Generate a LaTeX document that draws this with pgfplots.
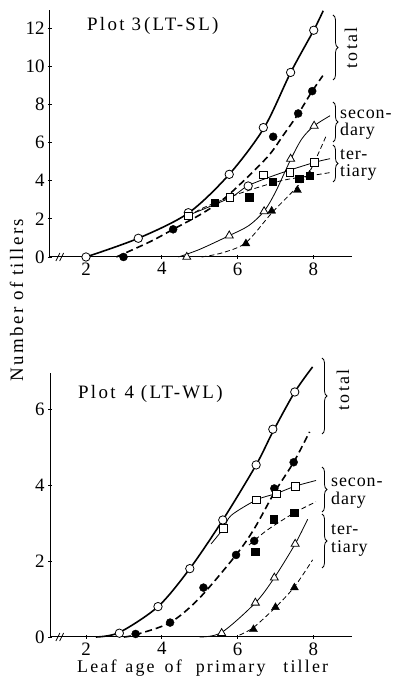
\documentclass[border=0pt]{standalone}
\usepackage{fontspec}
\setmainfont{Liberation Serif}
\newfontfamily\spaced[LetterSpace=12]{Liberation Serif}
\newfontfamily\lspaced[LetterSpace=5]{Liberation Serif}
\usepackage{pgfplots}
\pgfplotsset{compat=1.18}
\usetikzlibrary{decorations.pathreplacing}

\pgfplotsset{
  myax/.style={
    scale only axis, width=302bp, anchor=south west,
    axis lines=left, axis line style={line width=1bp,-},
    xmin=1.05, xmax=9.02, xtick={2,4,6,8},
    tick style={line width=0.8bp,black}, major tick length=4bp,
    tick label style={font=\fontsize{19}{19}\selectfont},
    /pgf/number format/assume math mode=true,
    clip=false,
  },
  thickline/.style={line width=1.6bp, black, no marks, smooth},
  thickdash/.style={line width=1.6bp, black, no marks, smooth, dash pattern=on 7bp off 4bp},
  thinline/.style={line width=0.8bp, black, no marks, smooth},
  thindash/.style={line width=0.8bp, black, no marks, smooth, dash pattern=on 5bp off 3bp},
  oc/.style={only marks, mark=*, mark size=4.2bp, mark options={fill=white, draw=black, line width=0.8bp}},
  fc/.style={only marks, mark=*, mark size=4bp, mark options={fill=black, draw=black}},
  os/.style={only marks, mark=square*, mark size=3.8bp, mark options={fill=white, draw=black, line width=0.8bp}},
  fs/.style={only marks, mark=square*, mark size=3.8bp, mark options={fill=black, draw=black}},
  ot/.style={only marks, mark=triangle*, mark size=4.6bp, mark options={fill=white, draw=black, line width=0.8bp}},
  ft/.style={only marks, mark=triangle*, mark size=4.6bp, mark options={fill=black, draw=black}},
}

\begin{document}
\begin{tikzpicture}
\useasboundingbox (0,0) rectangle (394bp,683bp);

% ---------------- Plot 3 ----------------
\begin{axis}[myax, at={(50bp,426bp)}, height=247bp,
  ymin=0, ymax=12.94, ytick={0,2,4,6,8,10,12}]
% curves
\addplot[thickline] coordinates {(2,0) (3.38,0.98) (4.70,2.3) (5.78,4.33) (6.70,6.77) (7.40,9.66) (8.01,11.88) (8.26,12.9)};
\addplot[thickdash] coordinates {(2.8,0) (3.69,0.8) (4.30,1.45) (5.10,2.32) (5.76,3.25) (6.77,5.2) (7.21,6.39) (7.61,7.53) (7.96,8.66) (8.25,9.5)};
\addplot[thinline] coordinates {(4.62,2.12) (5.80,3.1) (6.28,3.74) (7.12,4.38) (8.02,4.95) (8.44,5.15)};
\addplot[thindash] coordinates {(4.70,2.12) (5.10,2.58) (6.07,3.34) (7.12,3.98) (7.90,4.25) (8.44,4.42)};
\addplot[thinline] coordinates {(4.44,0) (5.0,0.4) (5.78,1.12) (6.3,1.65) (6.70,2.4) (7.0,3.4) (7.40,5.1) (7.7,6.2) (8.02,6.87) (8.44,7.4)};
\addplot[thindash] coordinates {(5.05,0) (5.6,0.22) (6.22,0.75) (6.9,2.3) (7.56,3.65) (7.91,4.5) (8.35,6.4)};
% marks
\addplot[oc] coordinates {(2,0) (3.38,0.98) (4.70,2.32) (5.78,4.33) (6.28,3.72) (6.68,6.78) (7.40,9.67) (8.01,11.88)};
\addplot[fc] coordinates {(2.99,0) (4.30,1.45) (6.94,6.3) (7.60,7.52) (7.97,8.69)};
\addplot[os] coordinates {(4.70,2.16) (5.80,3.11) (6.68,4.31) (7.38,4.42) (8.02,4.97)};
\addplot[fs] coordinates {(5.40,2.85) (6.31,3.12) (6.93,3.95) (7.63,4.10) (7.90,4.25)};
\addplot[ot] coordinates {(4.66,0) (5.78,1.12) (6.70,2.39) (7.40,5.14) (8.02,6.87)};
\addplot[ft] coordinates {(6.22,0.70) (6.90,2.41) (7.58,3.5) (7.90,4.30)};
% axis break
\draw[line width=0.8bp] ([xshift=-2.5bp,yshift=-4bp]axis cs:1.27,0) -- ([xshift=1.5bp,yshift=4bp]axis cs:1.27,0);
\draw[line width=0.8bp] ([xshift=-2.5bp,yshift=-4bp]axis cs:1.37,0) -- ([xshift=1.5bp,yshift=4bp]axis cs:1.37,0);
\end{axis}

% ---------------- Plot 4 ----------------
\begin{axis}[myax, at={(50bp,46bp)}, height=264bp,
  ymin=0, ymax=6.95, ytick={0,2,4,6}]
\addplot[thickline] coordinates {(2.26,0) (2.88,0.12) (3.90,0.80) (4.74,1.80) (5.61,3.08) (6.49,4.53) (6.93,5.40) (7.51,6.45) (7.98,7.11)};
\addplot[thickdash] coordinates {(3.0,0) (3.31,0.06) (4.22,0.38) (4.99,1.02) (5.96,2.16) (6.44,2.85) (6.97,3.8) (7.48,4.6) (7.90,5.40)};
\addplot[thinline] coordinates {(5.3,2.45) (5.63,2.86) (5.83,3.2) (6.50,3.61) (7.03,3.78) (7.52,3.97) (8.07,4.12)};
\addplot[thindash] coordinates {(6.3,2.42) (6.79,2.82) (7.50,3.27) (8.07,3.56)};
\addplot[thinline] coordinates {(5.0,0) (5.58,0.12) (6.47,0.90) (6.97,1.56) (7.52,2.45) (7.85,3.10)};
\addplot[thindash] coordinates {(6.05,0.05) (6.42,0.25) (7.0,0.78) (7.50,1.32) (7.98,2.03)};
\addplot[oc] coordinates {(2.88,0.10) (3.90,0.80) (4.74,1.80) (5.61,3.08) (6.49,4.53) (6.93,5.47) (7.51,6.45)};
\addplot[fc] coordinates {(3.31,0.08) (4.22,0.38) (5.10,1.30) (5.96,2.16) (6.44,2.53) (6.97,3.91) (7.48,4.60)};
\addplot[os] coordinates {(5.63,2.86) (6.50,3.61) (7.03,3.77) (7.52,3.97)};
\addplot[fs] coordinates {(6.46,2.25) (6.95,3.10) (7.50,3.27)};
\addplot[ot] coordinates {(5.58,0.10) (6.47,0.90) (6.97,1.56) (7.52,2.45)};
\addplot[ft] coordinates {(6.42,0.20) (7.0,0.78) (7.50,1.30)};
\draw[line width=0.8bp] ([xshift=-2.5bp,yshift=-4bp]axis cs:1.27,0) -- ([xshift=1.5bp,yshift=4bp]axis cs:1.27,0);
\draw[line width=0.8bp] ([xshift=-2.5bp,yshift=-4bp]axis cs:1.37,0) -- ([xshift=1.5bp,yshift=4bp]axis cs:1.37,0);
\end{axis}

% ---------------- labels ----------------
\node[anchor=west, inner sep=0pt, font=\fontsize{19}{19}\spaced] at (87bp,657bp) {Plot 3\,(LT-SL)};
\node[anchor=west, inner sep=0pt, font=\fontsize{19}{19}\spaced] at (78bp,289bp) {Plot\hspace{9bp}4\hspace{7bp}(LT-WL)};
\node[rotate=90, inner sep=0pt, font=\fontsize{19}{19}\spaced] at (16.5bp,383bp) {Number\hspace{7bp}of\hspace{7bp}tillers};
\node[anchor=west, inner sep=0pt, font=\fontsize{18}{18}\spaced] at (77bp,15bp) {Leaf\hspace{9bp}age\hspace{10bp}of\hspace{14bp}primary\hspace{18bp}tiller};

% braces
\begin{scope}[line width=0.8bp, decoration={brace, amplitude=5bp}]
\draw[decorate] (333bp,668bp) -- (333bp,603bp);
\draw[decorate] (333bp,581bp) -- (333bp,541bp);
\draw[decorate] (333bp,538bp) -- (333bp,501bp);
\draw[decorate] (322bp,325bp) -- (322bp,249bp);
\draw[decorate] (322bp,216bp) -- (322bp,171bp);
\draw[decorate] (322bp,169bp) -- (322bp,115bp);
\end{scope}
\begin{scope}[every node/.style={inner sep=0pt, font=\fontsize{18}{18}\lspaced}]
\node[rotate=90, font=\fontsize{18}{18}\spaced] at (351bp,635bp) {total};
\node[anchor=west] at (340bp,569bp) {secon-};
\node[anchor=west] at (340bp,552bp) {dary};
\node[anchor=west] at (340bp,528bp) {ter-};
\node[anchor=west] at (340bp,510bp) {tiary};
\node[rotate=90, font=\fontsize{18}{18}\spaced] at (343bp,293bp) {total};
\node[anchor=west] at (331bp,201bp) {secon-};
\node[anchor=west] at (331bp,183bp) {dary};
\node[anchor=west] at (331bp,153bp) {ter-};
\node[anchor=west] at (331bp,135bp) {tiary};
\end{scope}
\end{tikzpicture}
\end{document}
